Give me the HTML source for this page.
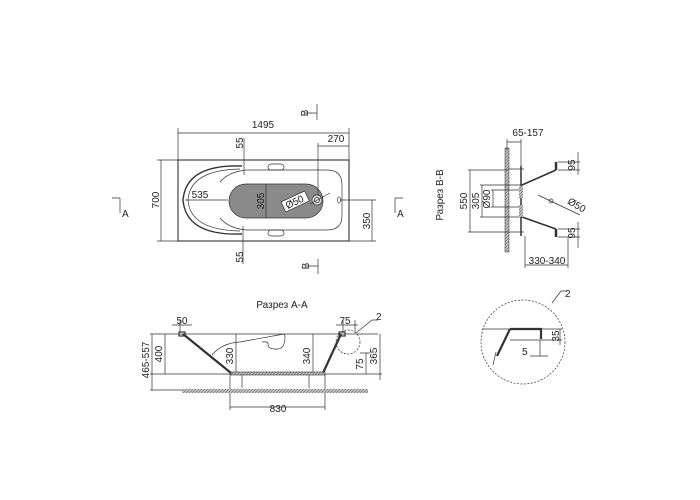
<!DOCTYPE html>
<html><head><meta charset="utf-8"><style>
html,body{margin:0;padding:0;background:#fff;}
svg{display:block;}
text{font-family:"Liberation Sans",sans-serif;font-size:10px;fill:#222;}
</style></head><body>
<svg width="700" height="500" viewBox="0 0 700 500" xmlns="http://www.w3.org/2000/svg">
<defs>
<pattern id="h" width="3" height="3" patternUnits="userSpaceOnUse"><rect width="3" height="3" fill="#ccc"/><path d="M0 3L3 0" stroke="#666" stroke-width="0.7"/></pattern>
</defs>
<g stroke="#333" stroke-width="0.7" fill="none">
<!-- TOP VIEW -->
<rect x="178" y="160" width="171" height="81" stroke-width="1.1"/>
<path d="M242 166 Q186 164 183 200 Q186 236 242 234" stroke-width="1.4"/>
<path d="M240 169 Q190 170 188 200 Q190 230 240 231"/>
<path d="M246 170 L327 170 Q342 170 342 185 L342 216 Q342 230 327 230 L246 230"/>
<path d="M246 170 Q228 172 220 182 M246 230 Q228 228 220 218"/>
<rect x="229" y="184" width="94" height="34" rx="17" fill="#8a8a8a" stroke="#333"/>
<rect x="268" y="164" width="16" height="6" rx="3"/>
<rect x="268" y="230" width="16" height="6" rx="3"/>
<circle cx="317" cy="200" r="5" fill="#ddd"/><circle cx="317" cy="200" r="2.5"/>
<ellipse cx="339" cy="200" rx="1.5" ry="3"/>
<path d="M178 160V128M349 160V128M178 133H349"/>
<path d="M318 195V143M318 146H349"/>
<path d="M178 160H157M178 241H157M161 160V241"/>
<path d="M340 200H376M349 241H376M372 200V241"/>
<path d="M244 138V175M243 226V264"/>
<path d="M185 200H228"/>
<path d="M266 184V218"/>
<path d="M310 204L330 193"/>
<path d="M317 104V120M305 113H317M318 259V274M306 266H318"/>
<path d="M120 198V213M112 198H120M395 198V213M395 198H403"/>
</g>
<rect x="282" y="196" width="26" height="11" fill="#fff" stroke="#333" stroke-width="0.7" transform="rotate(-25 295 201)"/>
<text x="263" y="128" text-anchor="middle">1495</text>
<text x="336" y="142" text-anchor="middle">270</text>
<text x="200" y="198" text-anchor="middle">535</text>
<text transform="translate(159,200) rotate(-90)" text-anchor="middle">700</text>
<text transform="translate(370,221) rotate(-90)" text-anchor="middle">350</text>
<text transform="translate(243,143) rotate(-90)" text-anchor="middle">55</text>
<text transform="translate(243,257) rotate(-90)" text-anchor="middle">55</text>
<text transform="translate(264,201) rotate(-90)" text-anchor="middle">305</text>
<text transform="translate(296,205) rotate(-25)" text-anchor="middle">Ø50</text>
<text transform="translate(308,113) rotate(-90)" text-anchor="middle">B</text>
<text transform="translate(309,266) rotate(-90)" text-anchor="middle">B</text>
<text x="122" y="217">A</text>
<text x="397" y="217">A</text>

<!-- SECTION A-A -->
<text x="282" y="308" text-anchor="middle">Разрез А-А</text>
<g stroke="#333" stroke-width="0.7" fill="none">
<path d="M150 334H378M150 374H382M150 390H182"/>
<path d="M183 334L231 373" stroke-width="2.2"/>
<path d="M341 334L323 373" stroke-width="2.2"/>
<rect x="179" y="332" width="6" height="4" stroke-width="1.2"/>
<rect x="339" y="332" width="6" height="4" stroke-width="1.2"/>
<path d="M212 355 Q222 343 240 342 L284 334 Q286 336 284 344 Q282 350 275 349 Q268 349 268 344 Q268 341 262 342"/>
<path d="M242 374V388M309 374V388"/>
<path d="M152 334V390M165 334V374"/>
<path d="M236 334V374M313 334V374"/>
<path d="M366 353V374M380 334V380M360 353H370"/>
<path d="M230 374V410M325 374V410M230 407H325"/>
<path d="M172 325H192M180 320V332M336 325H358M343 320V332M355 320V332"/>
<circle cx="348" cy="342" r="12" stroke-dasharray="2 1.5"/>
<path d="M356 333L372 320H378"/>
</g>
<rect x="231" y="372" width="94" height="3" fill="url(#h)" stroke="#333" stroke-width="0.6"/>
<rect x="182" y="389" width="186" height="4" fill="url(#h)" stroke="none"/>
<text transform="translate(149,360) rotate(-90)" text-anchor="middle">465-557</text>
<text transform="translate(162,354) rotate(-90)" text-anchor="middle">400</text>
<text transform="translate(233,356) rotate(-90)" text-anchor="middle">330</text>
<text transform="translate(310,356) rotate(-90)" text-anchor="middle">340</text>
<text transform="translate(363,364) rotate(-90)" text-anchor="middle">75</text>
<text transform="translate(377,356) rotate(-90)" text-anchor="middle">365</text>
<text x="278" y="412" text-anchor="middle">830</text>
<text x="182" y="324" text-anchor="middle">50</text>
<text x="345" y="324" text-anchor="middle">75</text>
<text x="376" y="320">2</text>

<!-- SECTION B-B -->
<text transform="translate(443,195) rotate(-90)" text-anchor="middle">Разрез В-В</text>
<rect x="505" y="148" width="4" height="104" fill="url(#h)" stroke="#333" stroke-width="0.5"/>
<g stroke="#333" stroke-width="0.7" fill="none">
<path d="M507 139V150M521 139V168M507 142H521"/>
<path d="M521 166V236" stroke-width="1.5"/>
<path d="M508 169H524M508 232H524"/>
<path d="M522 185L556 170M522 217L556 229" stroke-width="1.6"/>
<path d="M556 162V170M556 229V237" stroke-width="2.5"/>
<path d="M468 170H508M468 232H508M470 170V232"/>
<path d="M480 185H522M480 217H522M482 185V217"/>
<path d="M491 190H522M491 207H522M493 190V207"/>
<path d="M525 236V268M568 238V268M525 265H568"/>
<path d="M558 162H580M558 170H580M578 152V175M558 229H580M558 237H580M578 222V248"/>
<path d="M538 195L580 215"/>
<circle cx="551" cy="201" r="2"/>
</g>
<rect x="519" y="186" width="4" height="12" fill="url(#h)"/>
<rect x="519" y="205" width="4" height="12" fill="url(#h)"/>
<text x="528" y="136" text-anchor="middle">65-157</text>
<text transform="translate(467,201) rotate(-90)" text-anchor="middle">550</text>
<text transform="translate(479,201) rotate(-90)" text-anchor="middle">305</text>
<text transform="translate(490,199) rotate(-90)" text-anchor="middle">Ø90</text>
<text transform="translate(575,165) rotate(-90)" text-anchor="middle">95</text>
<text transform="translate(575,233) rotate(-90)" text-anchor="middle">95</text>
<text transform="translate(575,208) rotate(30)" text-anchor="middle">Ø50</text>
<text x="547" y="264" text-anchor="middle">330-340</text>

<!-- DETAIL -->
<g stroke="#333" stroke-width="0.7" fill="none">
<circle cx="523" cy="342" r="42" stroke-dasharray="2 1.5"/>
<path d="M482 329H562M510 340H562M540 340V356M530 356H548"/>
<path d="M510 329H541V339M510 329L497 356" stroke-width="2.2"/>
<path d="M496 352L493 365"/>
<path d="M560 329V345"/>
<path d="M552 303L561 291H566"/>
</g>
<text x="522" y="355">5</text>
<text transform="translate(559,336) rotate(-90)" text-anchor="middle">35</text>
<text x="565" y="297">2</text>
</svg>
</body></html>
